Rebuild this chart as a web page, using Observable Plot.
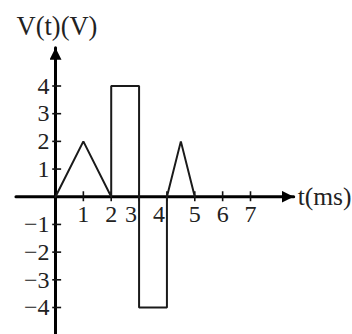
<!DOCTYPE html>
<html>
<head>
<meta charset="utf-8">
<script src="https://cdn.jsdelivr.net/npm/d3@7"></script>
<script src="https://cdn.jsdelivr.net/npm/@observablehq/plot@0.6"></script>
<style>
  html, body { margin: 0; padding: 0; background: #fff; }
  svg { display: block; }
</style>
</head>
<body>
<div id="chart"></div>
<script>
// Waveform V(t): corner points of the signal (t in ms, V in volts)
const times   = [0, 1, 2, 2, 3, 3, 4, 4, 4.5, 5];
const volts   = [0, 2, 0, 4, 4, -4, -4, 0, 2, 0];

// Axis ticks and labels
const xTicks        = [1, 2, 3, 4, 5, 6, 7];
const xLabels       = [1, 2, 5, 6, 7];
const xLabelsOffset = [3, 4];          // nudged left of the pulse edges
const yTicks        = [-4, -3, -2, -1, 1, 2, 3, 4];
const yTitle = "V(t)(V)";
const xTitle = "t(ms)";

const wave = times.map((t, i) => ({t, v: volts[i]}));

// Filled arrowhead used at the ends of both axes
function arrowHead(color, context) {
  const ns = "http://www.w3.org/2000/svg";
  const m = context.document.createElementNS(ns, "marker");
  m.setAttribute("viewBox", "-12 -6 12 12");
  m.setAttribute("markerWidth", 12);
  m.setAttribute("markerHeight", 12);
  m.setAttribute("markerUnits", "userSpaceOnUse");
  m.setAttribute("orient", "auto");
  m.setAttribute("refX", 0);
  m.setAttribute("refY", 0);
  const p = context.document.createElementNS(ns, "path");
  p.setAttribute("d", "M0,0L-12,-6L-12,6Z");
  p.setAttribute("fill", color);
  p.setAttribute("stroke", "none");
  m.appendChild(p);
  return m;
}

const xMin = -1.42, xMax = 8.55;   // x-axis extent (ms)
const yMin = -5.0,  yMax = 5.38;   // y-axis extent (V)
const tickHalf = 0.18;             // half length of tick marks, in volts
const font = "Liberation Serif, Times New Roman, serif";
const minus = d => d < 0 ? "\u2212" + (-d) : String(d);

const chart = Plot.plot({
  width: 352,
  height: 334,
  margin: 0,
  x: {domain: [0, 7], range: [55, 250], axis: null},
  y: {domain: [-4, 4], range: [307, 85.5], axis: null},
  style: {fontFamily: font, background: "#fff"},
  marks: [
    // x axis
    Plot.line([{x: xMin, y: 0}, {x: xMax, y: 0}], {
      x: "x", y: "y", stroke: "#000", strokeWidth: 3, markerEnd: arrowHead
    }),
    // y axis
    Plot.line([{x: 0, y: yMin}, {x: 0, y: yMax}], {
      x: "x", y: "y", stroke: "#000", strokeWidth: 3, markerEnd: arrowHead
    }),
    // tick marks
    Plot.ruleX(xTicks, {x: d => d, y1: -tickHalf, y2: tickHalf, stroke: "#111", strokeWidth: 1.6}),
    Plot.ruleY(yTicks, {y: d => d, x1: -0.1, x2: 0.22, stroke: "#111", strokeWidth: 1.6}),
    // signal
    Plot.line(wave, {x: "t", y: "v", stroke: "#1a1a1a", strokeWidth: 2, strokeLinejoin: "miter"}),
    // tick labels
    Plot.text(xLabels, {x: d => d, y: 0, dy: 18, text: d => String(d), fontSize: 24, fill: "#222"}),
    Plot.text(xLabelsOffset, {x: d => d, y: 0, dy: 18, dx: -8, text: d => String(d), fontSize: 24, fill: "#222"}),
    Plot.text(yTicks, {x: 0, y: d => d, dx: -6, textAnchor: "end", text: minus, fontSize: 24, fill: "#222"}),
    // axis titles
    Plot.text([yTitle], {frameAnchor: "top-left", dx: 16, dy: 26, lineAnchor: "middle", textAnchor: "start", fontSize: 26.5, fill: "#222"}),
    Plot.text([xTitle], {x: xMax, y: 0, dx: 4, textAnchor: "start", fontSize: 25.5, fill: "#222"})
  ]
});

document.getElementById("chart").appendChild(chart);
</script>
</body>
</html>
